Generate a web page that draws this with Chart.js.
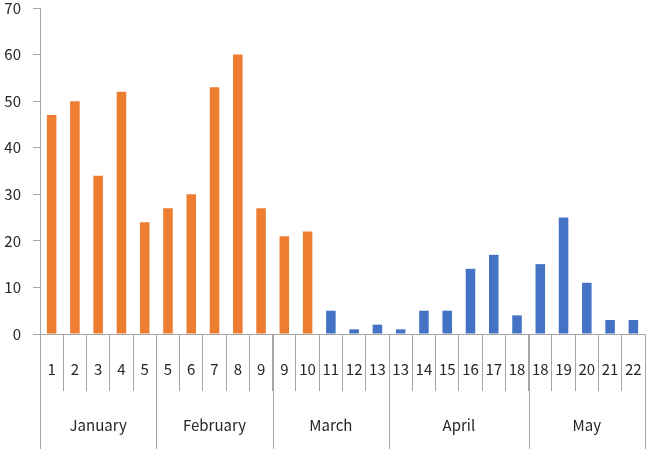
<!DOCTYPE html>
<html>
<head>
<meta charset="utf-8">
<script src="https://cdn.jsdelivr.net/npm/chart.js@4"></script>
<style>
  html, body { margin: 0; padding: 0; background: #fff; }
  #wrap { width: 646px; height: 449px; }
</style>
</head>
<body>
<div id="wrap"><canvas id="chart"></canvas></div>
<script>
const days = ['1', '2', '3', '4', '5', '5', '6', '7', '8', '9', '9', '10', '11', '12', '13', '13', '14', '15', '16', '17', '18', '18', '19', '20', '21', '22'];
const months = ['January', 'February', 'March', 'April', 'May'];
const monthSizes = [5, 5, 5, 6, 5];
const orangeValues = [47, 50, 34, 52, 24, 27, 30, 53, 60, 27, 21, 22, null, null, null, null, null, null, null, null, null, null, null, null, null, null];
const blueValues = [null, null, null, null, null, null, null, null, null, null, null, null, 5, 1, 2, 1, 5, 5, 14, 17, 4, 15, 25, 11, 3, 3];
const yTicks = [0, 10, 20, 30, 40, 50, 60, 70];

const FONT = '"Noto Sans CJK JP", "Noto Sans", sans-serif';
const LINE = '#a6a6a6';
const TEXT = '#262626';

// long separators + month names under the day row
const monthAxis = {
  id: 'monthAxis',
  afterDraw(chart) {
    const ctx = chart.ctx;
    const x = chart.scales.x;
    const area = chart.chartArea;
    const half = (x.getPixelForValue(1) - x.getPixelForValue(0)) / 2;
    ctx.save();
    ctx.strokeStyle = LINE;
    ctx.lineWidth = 1;
    ctx.fillStyle = TEXT;
    ctx.font = '15px ' + FONT;
    ctx.textAlign = 'center';
    ctx.textBaseline = 'middle';
    let start = 0;
    const edges = [0];
    monthSizes.forEach((n, i) => {
      const left = x.getPixelForValue(start) - half;
      const right = x.getPixelForValue(start + n - 1) + half;
      ctx.fillText(months[i], (left + right) / 2, area.bottom + 91);
      start += n;
      edges.push(start);
    });
    edges.forEach((idx) => {
      const px = Math.round(idx < days.length ? x.getPixelForValue(idx) - half : x.getPixelForValue(days.length - 1) + half) + 0.5;
      ctx.beginPath();
      ctx.moveTo(px, area.bottom);
      ctx.lineTo(px, chart.height);
      ctx.stroke();
    });
    ctx.restore();
  }
};

function drawChart() {
  const ctx = document.getElementById('chart').getContext('2d');
  new Chart(ctx, {
    type: 'bar',
    data: {
      labels: days,
      datasets: [
        {
          label: 'Series 1',
          data: orangeValues,
          backgroundColor: '#ED7D31',
          skipNull: true,
          categoryPercentage: 1,
          barPercentage: 0.41,
        },
        {
          label: 'Series 2',
          data: blueValues,
          backgroundColor: '#4472C4',
          skipNull: true,
          categoryPercentage: 1,
          barPercentage: 0.41,
        },
      ],
    },
    options: {
      responsive: true,
      maintainAspectRatio: false,
      animation: false,
      layout: { padding: { top: 8, right: 1 } },
      plugins: {
        legend: { display: false },
        tooltip: { enabled: false },
      },
      scales: {
        x: {
          afterFit: (s) => { s.height = 115; },
          border: { color: LINE },
          grid: {
            offset: true,
            drawOnChartArea: false,
            color: LINE,
            tickLength: 57,
          },
          ticks: {
            color: TEXT,
            font: { family: FONT, size: 15 },
            padding: -31,
            maxRotation: 0,
            autoSkip: false,
          },
        },
        y: {
          min: 0,
          max: 70,
          afterFit: (s) => { s.width = 40; s.paddingTop = 0; s.paddingBottom = 0; },
          afterBuildTicks: (s) => { s.ticks = yTicks.map((v) => ({ value: v })); },
          border: { color: LINE },
          grid: {
            drawOnChartArea: false,
            color: LINE,
            tickLength: 7,
          },
          ticks: {
            color: TEXT,
            font: { family: FONT, size: 15 },
            padding: 12,
          },
        },
      },
    },
    plugins: [monthAxis],
  });
}

document.addEventListener('DOMContentLoaded', () => {
  drawChart();
});
</script>
</body>
</html>
